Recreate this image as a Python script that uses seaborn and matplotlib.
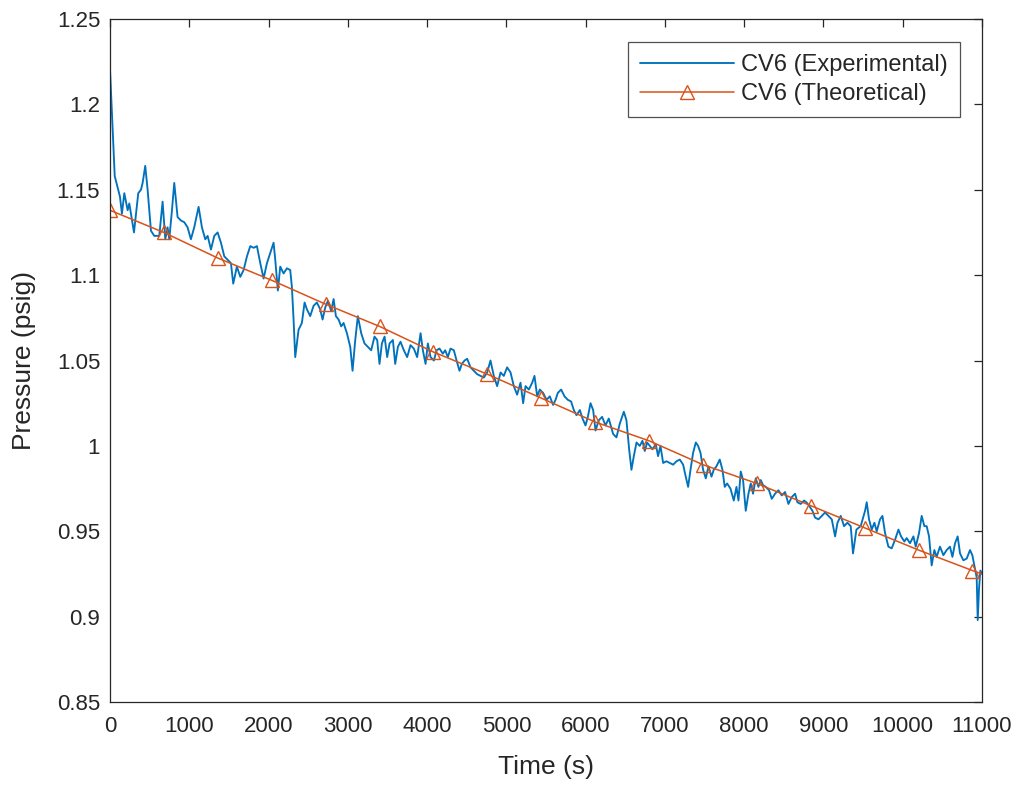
import matplotlib
matplotlib.use("Agg")
import matplotlib.pyplot as plt
import numpy as np
import pandas as pd
import seaborn as sns

# Measured pressure in control volume 6
exp_time = [
    0, 60, 126, 151, 181, 223, 244, 303, 357, 391,
    412, 445, 475, 517, 559, 622, 664, 698, 727, 748,
    782, 811, 853, 895, 937, 979, 1021, 1063, 1118, 1160,
    1202, 1232, 1274, 1316, 1358, 1400, 1442, 1484, 1526, 1555,
    1601, 1644, 1686, 1728, 1770, 1812, 1854, 1896, 1938, 1980,
    2022, 2064, 2085, 2118, 2148, 2190, 2232, 2274, 2295, 2316,
    2337, 2379, 2421, 2455, 2484, 2526, 2568, 2610, 2652, 2682,
    2715, 2749, 2791, 2821, 2850, 2884, 2917, 2947, 2989, 3031,
    3060, 3094, 3127, 3169, 3211, 3253, 3295, 3337, 3371, 3400,
    3430, 3464, 3497, 3527, 3569, 3598, 3632, 3665, 3707, 3749,
    3791, 3833, 3875, 3918, 3947, 3981, 4010, 4044, 4086, 4120,
    4157, 4199, 4229, 4262, 4296, 4338, 4372, 4409, 4439, 4473,
    4506, 4548, 4590, 4632, 4675, 4716, 4758, 4800, 4842, 4884,
    4927, 4968, 5010, 5053, 5094, 5136, 5179, 5212, 5242, 5284,
    5326, 5355, 5389, 5422, 5464, 5507, 5548, 5590, 5621, 5649,
    5691, 5734, 5775, 5817, 5851, 5885, 5927, 5961, 5999, 6028,
    6062, 6095, 6125, 6166, 6208, 6251, 6292, 6347, 6389, 6431,
    6482, 6515, 6549, 6578, 6608, 6642, 6683, 6717, 6746, 6776,
    6809, 6843, 6885, 6914, 6944, 6978, 7020, 7062, 7104, 7146,
    7188, 7230, 7263, 7293, 7323, 7356, 7390, 7419, 7449, 7482,
    7516, 7550, 7588, 7616, 7650, 7692, 7726, 7755, 7785, 7827,
    7869, 7903, 7928, 7957, 7986, 8020, 8054, 8083, 8112, 8146,
    8180, 8209, 8238, 8272, 8314, 8348, 8390, 8432, 8474, 8516,
    8558, 8600, 8642, 8671, 8713, 8755, 8785, 8818, 8861, 8894,
    8937, 8979, 9021, 9063, 9105, 9147, 9177, 9218, 9260, 9302,
    9344, 9373, 9416, 9470, 9525, 9546, 9575, 9609, 9643, 9672,
    9714, 9744, 9777, 9819, 9861, 9903, 9946, 9979, 10021, 10050,
    10092, 10135, 10164, 10206, 10239, 10273, 10302, 10332, 10365, 10399,
    10428, 10470, 10513, 10554, 10596, 10627, 10660, 10693, 10723, 10765,
    10807, 10849, 10878, 10912, 10933, 10946, 10962, 10979, 11000,
]
exp_pressure = [
    1.221, 1.158, 1.146, 1.136, 1.148, 1.138, 1.142, 1.125, 1.148, 1.150,
    1.154, 1.164, 1.150, 1.126, 1.123, 1.123, 1.143, 1.121, 1.128, 1.121,
    1.138, 1.154, 1.134, 1.132, 1.131, 1.128, 1.121, 1.128, 1.140, 1.128,
    1.121, 1.123, 1.115, 1.123, 1.125, 1.119, 1.111, 1.109, 1.107, 1.095,
    1.105, 1.099, 1.103, 1.111, 1.117, 1.116, 1.117, 1.107, 1.098, 1.107,
    1.113, 1.119, 1.109, 1.091, 1.105, 1.101, 1.104, 1.103, 1.093, 1.074,
    1.052, 1.068, 1.072, 1.084, 1.080, 1.076, 1.082, 1.084, 1.080, 1.074,
    1.081, 1.085, 1.079, 1.086, 1.076, 1.074, 1.070, 1.072, 1.066, 1.058,
    1.044, 1.062, 1.076, 1.066, 1.060, 1.058, 1.056, 1.064, 1.062, 1.048,
    1.060, 1.064, 1.052, 1.060, 1.062, 1.048, 1.058, 1.061, 1.056, 1.052,
    1.059, 1.057, 1.052, 1.066, 1.056, 1.048, 1.060, 1.052, 1.050, 1.056,
    1.057, 1.054, 1.056, 1.052, 1.057, 1.056, 1.050, 1.044, 1.048, 1.050,
    1.051, 1.046, 1.044, 1.042, 1.041, 1.040, 1.043, 1.050, 1.041, 1.035,
    1.043, 1.041, 1.046, 1.043, 1.035, 1.030, 1.037, 1.025, 1.035, 1.033,
    1.037, 1.041, 1.029, 1.033, 1.031, 1.027, 1.029, 1.024, 1.027, 1.031,
    1.033, 1.029, 1.027, 1.026, 1.021, 1.018, 1.021, 1.016, 1.012, 1.017,
    1.025, 1.021, 1.009, 1.015, 1.017, 1.012, 1.016, 1.007, 1.005, 1.013,
    1.020, 1.015, 0.998, 0.986, 0.994, 1.002, 1.000, 1.003, 0.997, 1.002,
    1.000, 0.998, 1.001, 0.994, 1.000, 0.990, 0.991, 0.990, 0.989, 0.991,
    0.992, 0.989, 0.982, 0.976, 0.986, 0.996, 1.002, 1.000, 0.996, 0.986,
    0.981, 0.988, 0.982, 0.986, 0.988, 0.992, 0.986, 0.976, 0.978, 0.975,
    0.968, 0.976, 0.968, 0.985, 0.980, 0.962, 0.972, 0.978, 0.972, 0.981,
    0.976, 0.980, 0.977, 0.976, 0.974, 0.969, 0.972, 0.974, 0.971, 0.973,
    0.966, 0.970, 0.972, 0.967, 0.966, 0.968, 0.967, 0.965, 0.962, 0.958,
    0.957, 0.959, 0.961, 0.959, 0.957, 0.947, 0.955, 0.959, 0.953, 0.955,
    0.953, 0.937, 0.951, 0.953, 0.962, 0.967, 0.957, 0.951, 0.955, 0.950,
    0.957, 0.959, 0.949, 0.941, 0.940, 0.945, 0.951, 0.947, 0.944, 0.946,
    0.943, 0.947, 0.941, 0.949, 0.959, 0.953, 0.953, 0.947, 0.930, 0.939,
    0.935, 0.941, 0.936, 0.939, 0.941, 0.935, 0.943, 0.947, 0.937, 0.933,
    0.934, 0.939, 0.936, 0.928, 0.923, 0.898, 0.916, 0.927, 0.925,
]

# Model prediction for the same control volume
theo_time = [0, 680, 1360, 2040, 2720, 3400, 4080, 4760, 5440, 6120,
             6800, 7480, 8160, 8840, 9520, 10200, 10880, 11000]
theo_pressure = [1.138, 1.125, 1.110, 1.097, 1.083, 1.070, 1.055, 1.042, 1.028,
                 1.014, 1.003, 0.989, 0.978, 0.965, 0.952, 0.939, 0.927, 0.925]

series_labels = ["CV6 (Experimental)", "CV6 (Theoretical)"]
x_ticks = list(range(0, 11001, 1000))
y_ticks = [0.85, 0.9, 0.95, 1.0, 1.05, 1.1, 1.15, 1.2, 1.25]
y_tick_labels = ["0.85", "0.9", "0.95", "1", "1.05", "1.1", "1.15", "1.2", "1.25"]

assert len(exp_time) == len(exp_pressure)
assert len(theo_time) == len(theo_pressure)

exp_df = pd.DataFrame({"time": exp_time, "pressure": exp_pressure})
theo_df = pd.DataFrame({"time": theo_time, "pressure": theo_pressure})

sns.set_style("white")
plt.rcParams["font.family"] = ["Liberation Sans", "DejaVu Sans"]

axis_color = "#262626"
blue = "#0072BD"
orange = "#D95319"

fig = plt.figure(figsize=(10.21, 7.92), dpi=100)
ax = fig.add_axes([0.1077, 0.1136, 0.8541, 0.8624])

sns.lineplot(data=exp_df, x="time", y="pressure", ax=ax, color=blue,
             linewidth=1.35, sort=False, estimator=None,
             label=series_labels[0])
sns.lineplot(data=theo_df, x="time", y="pressure", ax=ax, color=orange,
             linewidth=1.1, sort=False, estimator=None,
             marker="^", markersize=10, markerfacecolor="none",
             markeredgecolor=orange, markeredgewidth=1.0,
             markevery=list(range(len(theo_time) - 1)),
             label=series_labels[1])

ax.set_xlim(0, 11000)
ax.set_ylim(0.85, 1.25)
ax.set_xticks(x_ticks)
ax.set_yticks(y_ticks)
ax.set_yticklabels(y_tick_labels)

ax.tick_params(axis="both", which="both", direction="in", length=6,
               width=0.9, color=axis_color, labelcolor=axis_color,
               labelsize=16, top=True, right=True, pad=7)
ax.tick_params(axis="x", pad=10)
for spine in ax.spines.values():
    spine.set_visible(True)
    spine.set_color(axis_color)
    spine.set_linewidth(0.9)

ax.set_xlabel("Time (s)", fontsize=19, color=axis_color, labelpad=13)
ax.set_ylabel("Pressure (psig)", fontsize=19, color=axis_color, labelpad=15)

leg = ax.legend(loc="upper right", bbox_to_anchor=(0.9748, 0.9663),
                fontsize=17, frameon=True, fancybox=False,
                borderpad=0.5, handlelength=4.0, handletextpad=0.3,
                labelspacing=0.3, borderaxespad=0.0)
leg.get_frame().set_edgecolor(axis_color)
leg.get_frame().set_linewidth(0.9)
for txt in leg.get_texts():
    txt.set_color(axis_color)

fig.savefig("out.png", dpi=100, facecolor="white")
